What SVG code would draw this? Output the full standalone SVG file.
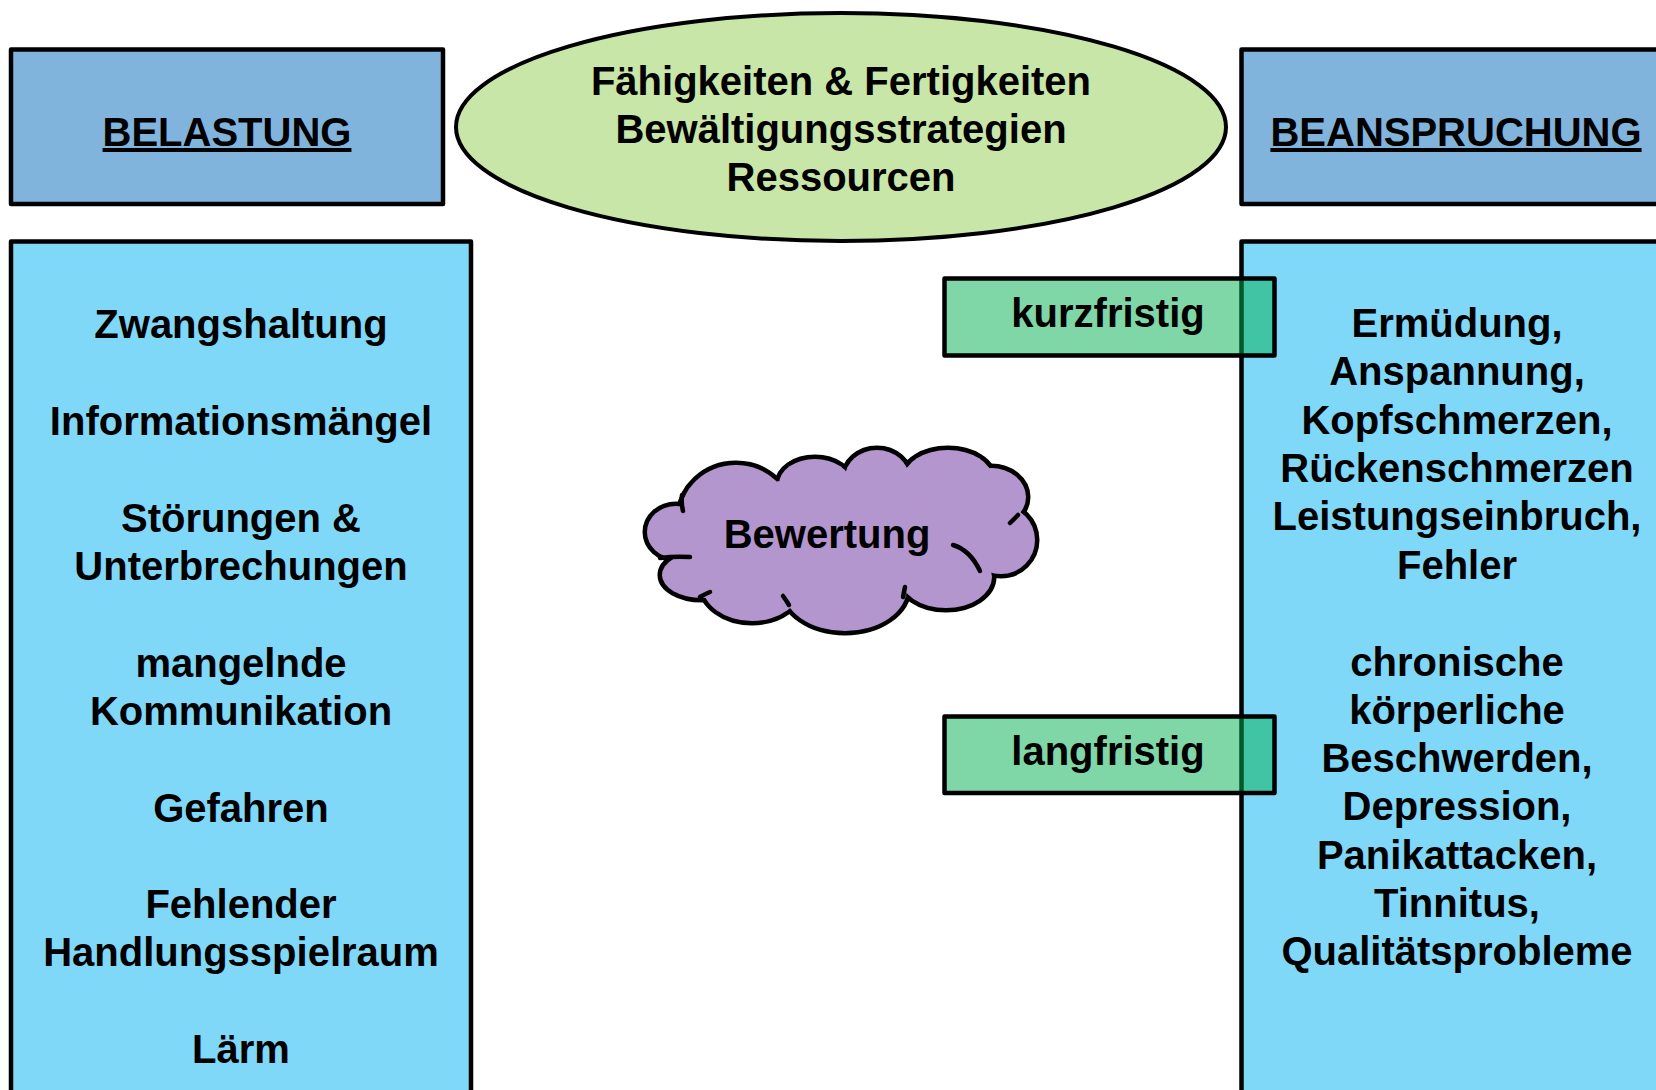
<svg xmlns="http://www.w3.org/2000/svg" width="1656" height="1090" viewBox="0 0 1656 1090">
<style>
text{font-family:"Liberation Sans",Arial,sans-serif;font-weight:bold;font-size:40px;fill:#000;text-anchor:middle}
.hdr{fill:#80B4DC;stroke:#000;stroke-width:4.5;stroke-linejoin:round}
.panel{fill:#80D8F8;stroke:#000;stroke-width:4.5;stroke-linejoin:round}
.term{fill:#00B050;fill-opacity:0.5;stroke:#000;stroke-width:4.5;stroke-linejoin:round}
.cl{fill:#B496CE;stroke:#000;stroke-width:9}
.cf{fill:#B496CE;stroke:none}
.tick{fill:none;stroke:#000;stroke-width:4.5;stroke-linecap:round}
</style>
<rect width="1656" height="1090" fill="#fff"/>
<g id="belastung-header">
<rect class="hdr" x="11" y="49.5" width="432" height="154.5"/>
<text x="227" y="146" text-decoration="underline">BELASTUNG</text>
</g>
<g id="beanspruchung-header">
<rect class="hdr" x="1241.5" y="49.5" width="500" height="154.5"/>
<text x="1456" y="146" text-decoration="underline">BEANSPRUCHUNG</text>
</g>
<g id="ressourcen">
<ellipse cx="841" cy="127" rx="385" ry="114" fill="#C8E6A8" stroke="#000" stroke-width="4"/>
<text x="841" y="95">Fähigkeiten &amp; Fertigkeiten</text>
<text x="841" y="143">Bewältigungsstrategien</text>
<text x="841" y="191">Ressourcen</text>
</g>
<g id="belastung-list">
<rect class="panel" x="11" y="241.5" width="460" height="900"/>
<text x="241" y="338">Zwangshaltung</text>
<text x="241" y="435">Informationsmängel</text>
<text x="241" y="532">Störungen &amp;</text>
<text x="241" y="580">Unterbrechungen</text>
<text x="241" y="677">mangelnde</text>
<text x="241" y="725">Kommunikation</text>
<text x="241" y="822">Gefahren</text>
<text x="241" y="918">Fehlender</text>
<text x="241" y="966">Handlungsspielraum</text>
<text x="241" y="1063">Lärm</text>
</g>
<g id="beanspruchung-list">
<rect class="panel" x="1241.5" y="241.5" width="500" height="900"/>
<text x="1457" y="337">Ermüdung,</text>
<text x="1457" y="385">Anspannung,</text>
<text x="1457" y="434">Kopfschmerzen,</text>
<text x="1457" y="482">Rückenschmerzen</text>
<text x="1457" y="530">Leistungseinbruch,</text>
<text x="1457" y="579">Fehler</text>
<text x="1457" y="676">chronische</text>
<text x="1457" y="724">körperliche</text>
<text x="1457" y="772">Beschwerden,</text>
<text x="1457" y="820">Depression,</text>
<text x="1457" y="869">Panikattacken,</text>
<text x="1457" y="917">Tinnitus,</text>
<text x="1457" y="965">Qualitätsprobleme</text>
</g>
<g id="kurzfristig">
<rect class="term" x="944.5" y="278.5" width="330" height="77"/>
<text x="1108" y="327">kurzfristig</text>
</g>
<g id="langfristig">
<rect class="term" x="944.5" y="716.5" width="330" height="76.5"/>
<text x="1108" y="765">langfristig</text>
</g>
<g id="bewertung">
<g class="cl">
<ellipse cx="676" cy="532" rx="29" ry="26"/>
<ellipse cx="702" cy="575" rx="40" ry="23"/>
<ellipse cx="752" cy="584" rx="50" ry="37"/>
<ellipse cx="845" cy="588" rx="62" ry="43"/>
<ellipse cx="946" cy="577" rx="46" ry="31"/>
<ellipse cx="1001" cy="540" rx="34" ry="34"/>
<ellipse cx="991" cy="497" rx="35" ry="29"/>
<ellipse cx="948" cy="478" rx="44" ry="28"/>
<ellipse cx="877" cy="478" rx="32" ry="28"/>
<ellipse cx="815" cy="484" rx="36" ry="25"/>
<ellipse cx="736" cy="518" rx="56" ry="53"/>
</g>
<g class="cf">
<ellipse cx="676" cy="532" rx="29" ry="26"/>
<ellipse cx="702" cy="575" rx="40" ry="23"/>
<ellipse cx="752" cy="584" rx="50" ry="37"/>
<ellipse cx="845" cy="588" rx="62" ry="43"/>
<ellipse cx="946" cy="577" rx="46" ry="31"/>
<ellipse cx="1001" cy="540" rx="34" ry="34"/>
<ellipse cx="991" cy="497" rx="35" ry="29"/>
<ellipse cx="948" cy="478" rx="44" ry="28"/>
<ellipse cx="877" cy="478" rx="32" ry="28"/>
<ellipse cx="815" cy="484" rx="36" ry="25"/>
<ellipse cx="736" cy="518" rx="56" ry="53"/>
<ellipse cx="845" cy="535" rx="150" ry="60"/>
</g>
<path class="tick" d="M660,558 Q675,556 690,557"/>
<path class="tick" d="M682,495 Q681,503 683,511"/>
<path class="tick" d="M1010,523 Q1014,519 1018,515"/>
<path class="tick" d="M953,545 Q970,550 980,571"/>
<path class="tick" d="M903,597 Q904,592 905,587"/>
<path class="tick" d="M789,605 Q786,600 783,596"/>
<path class="tick" d="M700,597 Q705,594 710,592"/>
<text x="827" y="548">Bewertung</text>
</g>
<g id="connectors"></g>
</svg>
